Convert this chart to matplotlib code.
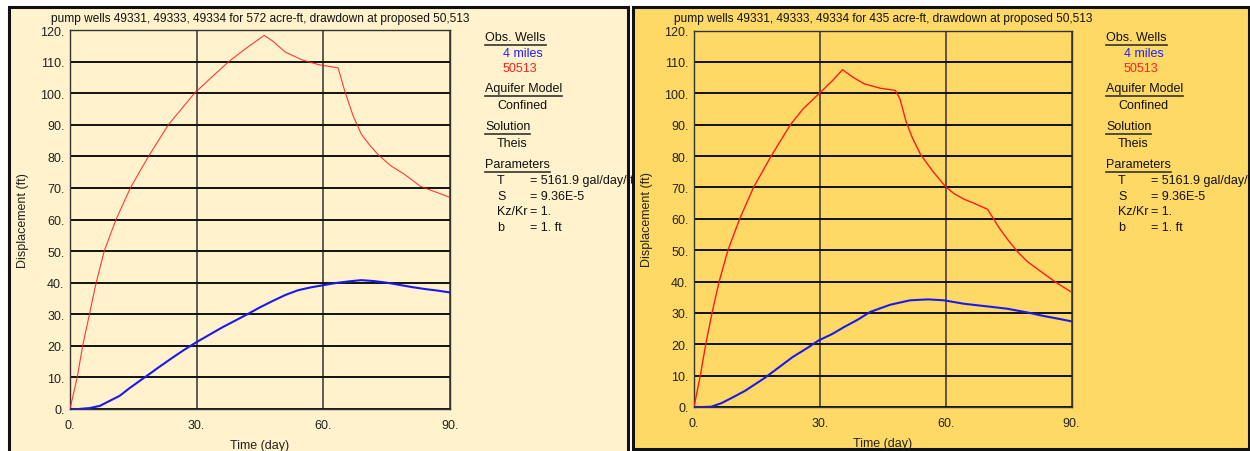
import matplotlib
matplotlib.use("Agg")
import matplotlib.pyplot as plt
from matplotlib.patches import Rectangle
from matplotlib.lines import Line2D

plt.rcParams['font.family'] = ['Liberation Sans', 'DejaVu Sans']

W, H = 1250, 452

# ---------------- data ----------------
titles = ["pump wells 49331, 49333, 49334 for 572 acre-ft, drawdown at proposed 50,513",
          "pump wells 49331, 49333, 49334 for 435 acre-ft, drawdown at proposed 50,513"]

# Left panel (572 acre-ft)
red1_t = [0, 1.7, 3, 4.6, 6.2, 8.1, 10.9, 14.3, 18.6, 23.3, 29.5, 33.5, 37.6, 42, 46,
          48, 51, 55, 59, 63.5, 65, 67, 69, 71, 73, 76, 79, 83, 87, 90]
red1_v = [0, 10, 20, 30, 40, 50, 60, 70, 80, 90, 100, 105, 110, 114.5, 118.3,
          116.5, 113, 110.5, 109, 108, 101, 93, 87, 83.5, 80.5, 77, 74.5, 70.5, 68.5, 67]
blue1_t = [0, 2, 4.7, 7.1, 9, 11.8, 14, 16.6, 18, 21, 24, 27, 30, 33, 36, 39, 42, 45, 48, 51,
           54, 57, 60, 63, 66, 69, 72, 75, 78, 81, 84, 87, 90]
blue1_v = [0, 0, 0.3, 1.0, 2.3, 4.2, 6.5, 9.0, 10.3, 13.2, 16.0, 18.7, 21.2, 23.5, 25.8, 27.9,
           30, 32.2, 34.2, 36.1, 37.6, 38.5, 39.2, 39.9, 40.4, 40.8, 40.5, 40, 39.3, 38.6, 38, 37.5, 36.9]

# Right panel (435 acre-ft)
red2_t = [0, 1.5, 2.8, 4.3, 6.0, 8.1, 10.9, 14.2, 18.4, 23, 26, 29.9, 33, 35.4, 38, 40.6, 44.4,
          48, 49.1, 50.6, 52, 54, 57, 60, 62, 64.4, 67, 70, 72.9, 75, 77.2, 79.6, 83.4, 86.2, 90]
red2_v = [0, 10, 20, 30, 40, 50, 60, 70, 80, 90, 95, 100, 104, 107.5, 105, 103, 101.6,
          100.9, 98.2, 90.8, 86, 80.5, 75, 70.2, 68, 66.2, 64.8, 63, 56.8, 53, 49.4, 46.2, 42.5, 39.8, 36.6]
blue2_t = [0, 2, 4.1, 6.5, 9, 12.1, 14.5, 16.9, 20, 23.5, 27, 29.7, 33, 35.8, 39, 42, 46.8, 51.5, 55.8,
           59.6, 64.4, 71, 74.8, 79.6, 83.4, 87, 90]
blue2_v = [0, 0, 0.1, 1.2, 2.9, 5.1, 7.2, 9.3, 12.4, 15.9, 18.8, 21.2, 23.3, 25.5, 27.8, 30.3,
           32.6, 34, 34.3, 34, 32.9, 31.9, 31.3, 30.1, 29, 28.1, 27.3]

panels = [
    dict(title=titles[0], red=(red1_t, red1_v), blue=(blue1_t, blue1_v), bg="#FFF2CC",
         rect=(9, 8, 628, 460), ax=(70, 31, 450, 410), leg_x=485, red_lw=0.8, red_alpha=0.85),
    dict(title=titles[1], red=(red2_t, red2_v), blue=(blue2_t, blue2_v), bg="#FFD966",
         rect=(633, 8, 1249, 450), ax=(694, 31.5, 1071.5, 408), leg_x=1106, red_lw=1.0, red_alpha=1.0),
]

xticks = [0, 30, 60, 90]
xtick_labels = ["0.", "30.", "60.", "90."]
yticks = list(range(0, 121, 10))
ytick_labels = [f"{v}." for v in yticks]

legend_items = [
    ("Obs. Wells", 0, 38, "#111111", True),
    ("4 miles", 18, 54, "#2020FF", False),
    ("50513", 18, 69, "#FF2020", False),
    ("Aquifer Model", 0, 89, "#111111", True),
    ("Confined", 12, 106, "#111111", False),
    ("Solution", 0, 127, "#111111", True),
    ("Theis", 12, 144, "#111111", False),
    ("Parameters", 0, 165, "#111111", True),
]
param_names = ["T", "S", "Kz/Kr", "b"]
param_vals = ["= 5161.9 gal/day/ft", "= 9.36E-5", "= 1.", "= 1. ft"]
param_y = [181, 197, 212, 228]

# ---------------- figure ----------------
fig = plt.figure(figsize=(W / 100, H / 100), dpi=100)
fig.patch.set_facecolor("white")

def fx(x):
    return x / W

def fy(y):
    return 1 - y / H

underlines = []
for p in panels:
    x0, y0, x1, y1 = p["rect"]
    fig.patches.append(Rectangle((fx(x0), fy(y1)), fx(x1) - fx(x0), fy(y0) - fy(y1),
                                 transform=fig.transFigure, facecolor=p["bg"],
                                 edgecolor="#111111", linewidth=2.2, zorder=-5))
    ax0, ay0, ax1, ay1 = p["ax"]
    ax = fig.add_axes([fx(ax0), fy(ay1), fx(ax1) - fx(ax0), fy(ay0) - fy(ay1)])
    ax.set_zorder(2)
    ax.set_facecolor(p["bg"])
    ax.plot(*p["red"], color="#FF1A1A", lw=p["red_lw"], alpha=p["red_alpha"], zorder=3)
    ax.plot(*p["blue"], color="#1A1AEE", lw=1.5, zorder=4)
    ax.set_xlim(0, 90)
    ax.set_ylim(0, 120)
    ax.set_xticks(xticks)
    ax.set_xticklabels(xtick_labels)
    ax.set_yticks(yticks)
    ax.set_yticklabels(ytick_labels)
    ax.tick_params(length=0, labelsize=9, colors="#222222")
    ax.tick_params(axis="x", pad=7)
    ax.tick_params(axis="y", pad=4)
    ax.yaxis.grid(True, color="#111111", lw=1.4)
    ax.xaxis.grid(True, color="#333333", lw=1.1)
    ax.set_axisbelow(True)
    for s in ax.spines.values():
        s.set_color("#333333")
        s.set_linewidth(1.0)
    ax.set_title(p["title"], fontsize=8.6, color="#111111", pad=6.5)
    ax.set_xlabel("Time (day)", fontsize=9, color="#222222", labelpad=6)
    ax.set_ylabel("Displacement (ft)", fontsize=9, color="#222222", labelpad=8)

    lx = p["leg_x"]
    for txt, dx, yy, col, ul in legend_items:
        t = fig.text(fx(lx + dx), fy(yy), txt, fontsize=9, color=col, va="center", ha="left")
        if ul:
            underlines.append((t, yy + 8))
    for name, val, yy in zip(param_names, param_vals, param_y):
        fig.text(fx(lx + 12), fy(yy), name, fontsize=9, color="#111111", va="center", ha="left")
        fig.text(fx(lx + 45), fy(yy), val, fontsize=9, color="#111111", va="center", ha="left")

fig.canvas.draw()
r = fig.canvas.get_renderer()
for t, yy in underlines:
    bb = t.get_window_extent(r)
    fig.add_artist(Line2D([bb.x0 / W, bb.x1 / W], [fy(yy), fy(yy)], transform=fig.transFigure,
                          color="#333333", lw=1.2))

fig.savefig("out.png", dpi=100, facecolor=fig.get_facecolor())
